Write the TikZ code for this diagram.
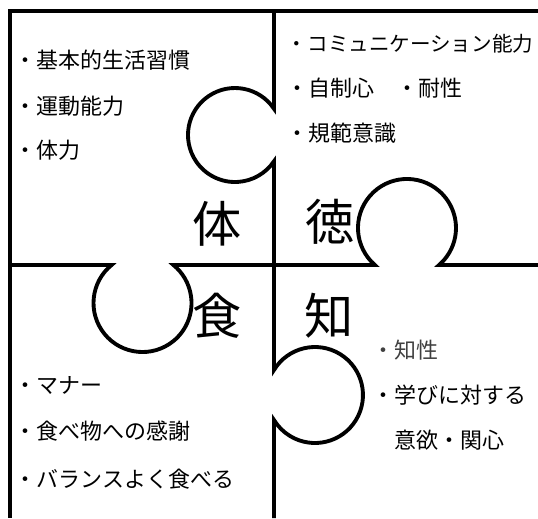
\documentclass[tikz,border=0pt]{standalone}
\usepackage{fontspec}
\newfontfamily\jpfont{Noto Sans CJK JP}
\usetikzlibrary{positioning}

\begin{document}
\begin{tikzpicture}[x=0.02cm, y=0.02cm, line width=2.2pt,
    font=\jpfont\fontsize{12.5}{15}\selectfont,
    item/.style={inner sep=0, text height=0.88em, text depth=0.12em, anchor=west},
    bigchar/.style={inner sep=0, font=\jpfont\fontsize{28}{30}\selectfont}]
    \useasboundingbox (0,0) rectangle (538,518);

    \draw (538,507) -- (10,507) -- (10,0);
    \draw (274,507) -- (274,409.2) arc[start angle=33.9, end angle=326.1, radius=47]
        -- (274,148) arc[start angle=148.6, end angle=-148.6, radius=48] -- (274,0);
    \draw (10,253) -- (111.6,253) arc[start angle=129.1, end angle=410.9, radius=49]
        -- (374.9,253) arc[start angle=229.1, end angle=-49.1, radius=49] -- (538,253);

    \node[bigchar] (tai) at (217,294) {体};
    \node[bigchar] (toku) at (330,296) {徳};
    \node[bigchar] (shoku) at (217,202) {食};
    \node[bigchar] (chi) at (329,202) {知};

    \node[item] (tai1) at (13,456) {・基本的生活習慣};
    \node[item, below=0.48cm of tai1.south west, anchor=north west] (tai2) {・運動能力};
    \node[item, below=0.46cm of tai2.south west, anchor=north west] (tai3) {・体力};

    \node[item, font=\jpfont\fontsize{11.7}{14}\selectfont] (toku1) at (285,473) {・コミュニケーション能力};
    \node[item, below=0.47cm of toku1.south west, anchor=north west] (toku2) {・自制心　・耐性};
    \node[item, below=0.46cm of toku2.south west, anchor=north west] (toku3) {・規範意識};

    \node[item] (shoku1) at (13,131) {・マナー};
    \node[item, below=0.48cm of shoku1.south west, anchor=north west] (shoku2) {・食べ物への感謝};
    \node[item, below=0.54cm of shoku2.south west, anchor=north west] (shoku3) {・バランスよく食べる};

    \node[item, text=black!75] (chi1) at (371,166) {・知性};
    \node[item, below=0.46cm of chi1.south west, anchor=north west] (chi2) {・学びに対する};
    \node[item, below=0.48cm of chi2.south west, anchor=north west, xshift=0.44cm] (chi3) {意欲・関心};
\end{tikzpicture}
\end{document}
